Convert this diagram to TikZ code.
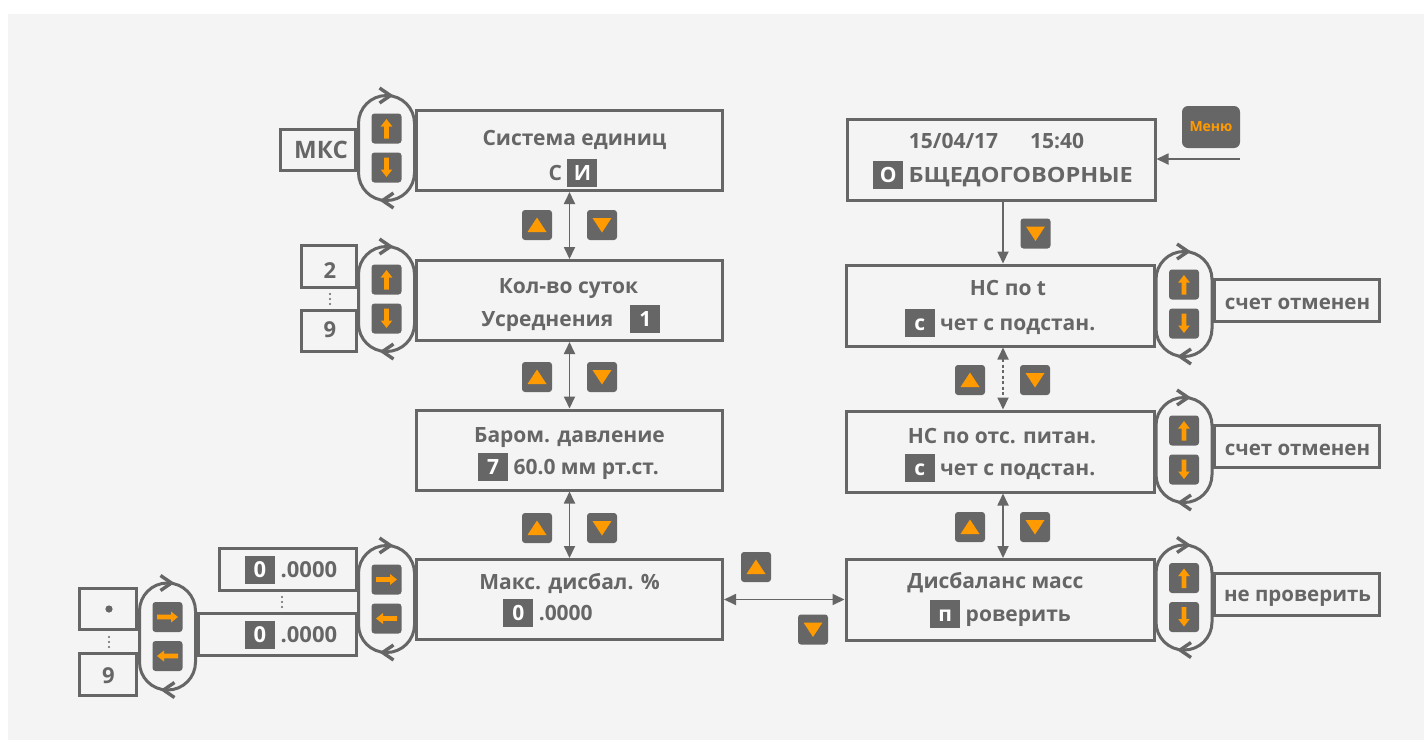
\documentclass[tikz,border=0pt]{standalone}
\usepackage{fontspec}
\usepackage{graphicx}
\setmainfont{Open Sans}
\usetikzlibrary{arrows.meta}
\definecolor{bgc}{HTML}{F4F4F4}
\definecolor{dg}{HTML}{666666}
\definecolor{orng}{HTML}{FF9A00}
\newcommand\lb[1]{{\setlength{\fboxsep}{0pt}\colorbox{dg}{\makebox[30pt]{\rule[-7pt]{0pt}{28pt}\textcolor{white}{#1}}}}}
\tikzset{
  ln/.style={draw=dg, line width=3pt},
  mainbox/.style={ln, minimum width=306pt, minimum height=80pt, inner sep=0pt, outer sep=1.5pt},
  rbox/.style={ln, minimum width=308pt, minimum height=81pt, inner sep=0pt, outer sep=1.5pt},
  sidebox/.style={ln, inner sep=0pt, outer sep=1.5pt},
  txt/.style={text=dg, font=\bfseries\fontsize{21}{25}\selectfont, anchor=base, inner sep=0pt},
  stxt/.style={txt, font=\bfseries\fontsize{22}{26}\selectfont},
  chev/.style={draw=dg, line width=3.4pt, line join=miter},
  tip/.tip={Triangle[length=12pt,width=11pt]},
  conn/.style={draw=dg, line width=1.8pt, tip-tip},
  conn1/.style={draw=dg, line width=1.8pt, -tip},
  vpill/.pic={
    \draw[ln, fill=bgc, rounded corners=27.9pt] (-28,-52.5) rectangle (28,52.5);
    \draw[chev] (-7,-60) -- (4,-52.5) -- (-7,-45);
    \draw[chev] (7,45) -- (-4,52.5) -- (7,60);
    \fill[dg, rounded corners=3pt] (-15,-34.5) rectangle (15,-4.5);
    \fill[dg, rounded corners=3pt] (-15,4.5) rectangle (15,34.5);
    \fill[orng] (0,-29) -- (5.8,-21.5) -- (2.4,-21.5) -- (2.4,-9.5) -- (-2.4,-9.5) -- (-2.4,-21.5) -- (-5.8,-21.5) -- cycle;
    \fill[orng] (0,29) -- (5.8,21.5) -- (2.4,21.5) -- (2.4,9.5) -- (-2.4,9.5) -- (-2.4,21.5) -- (-5.8,21.5) -- cycle;
  },
  hpill/.pic={
    \draw[ln, fill=bgc, rounded corners=27.9pt] (-28,-53.5) rectangle (28,53.5);
    \draw[chev] (-7,-61) -- (4,-53.5) -- (-7,-46);
    \draw[chev] (7,46) -- (-4,53.5) -- (7,61);
    \fill[dg, rounded corners=3pt] (-15,-34.5) rectangle (15,-4.5);
    \fill[dg, rounded corners=3pt] (-15,4.5) rectangle (15,34.5);
    \fill[orng] (10.5,-19.5) -- (3.5,-25) -- (3.5,-21.8) -- (-10.5,-21.8) -- (-10.5,-17.2) -- (3.5,-17.2) -- (3.5,-14) -- cycle;
    \fill[orng] (-10.5,19.5) -- (-3.5,25) -- (-3.5,21.8) -- (10.5,21.8) -- (10.5,17.2) -- (-3.5,17.2) -- (-3.5,14) -- cycle;
  },
  upbtn/.pic={
    \fill[dg, rounded corners=3pt] (-15,-15) rectangle (15,15);
    \fill[orng] (0,-7.5) -- (9.5,7) -- (-9.5,7) -- cycle;
  },
  dnbtn/.pic={
    \fill[dg, rounded corners=3pt] (-15,-15) rectangle (15,15);
    \fill[orng] (0,7.5) -- (9.5,-7) -- (-9.5,-7) -- cycle;
  },
}
\begin{document}
\begin{tikzpicture}[x=1pt,y=-1pt]
\useasboundingbox (0,0) rectangle (1424,740);
\fill[white] (0,0) rectangle (1424,740);
\fill[bgc] (8,14) rectangle (1424,740);

% side boxes
\node[sidebox, minimum width=75pt, minimum height=41pt] (mks) at (318,150) {};
\node[sidebox, minimum width=55pt, minimum height=42pt] (s2) at (329,266.5) {};
\node[sidebox, minimum width=55pt, minimum height=41pt] (s9) at (329,331) {};
\node[sidebox, minimum width=165pt, minimum height=42pt] (sr2) at (1297,300.5) {};
\node[sidebox, minimum width=165pt, minimum height=42pt] (sr3) at (1297,446.5) {};
\node[sidebox, minimum width=165pt, minimum height=42pt] (sr4) at (1297,594.5) {};
\node[sidebox, minimum width=137pt, minimum height=42pt] (z1) at (288,569.5) {};
\node[sidebox, minimum width=158pt, minimum height=42pt] (z2) at (277.5,634.5) {};
\node[sidebox, minimum width=57pt, minimum height=41pt] (dotb) at (108,609) {};
\node[sidebox, minimum width=57pt, minimum height=42pt] (n9) at (108,674.5) {};

% main boxes
\node[mainbox] (b1) at (569.5,150.5) {};
\node[mainbox] (b2) at (569.5,300.5) {};
\node[mainbox] (b3) at (569.5,450) {};
\node[mainbox] (b4) at (569.5,599.5) {};
\node[rbox] (r1) at (1001,160) {};
\node[rbox] (r2) at (1000,305.5) {};
\node[rbox] (r3) at (1000,451.5) {};
\node[rbox] (r4) at (1000,600) {};

% pills
\pic at (386.5,148) {vpill};
\pic at (386.5,299) {vpill};
\pic at (386.5,599) {hpill};
\pic at (167.5,636.5) {hpill};
\pic at (1184,304) {vpill};
\pic at (1184,450) {vpill};
\pic at (1184,597.5) {vpill};

% dots
\foreach \yy in {294,299,304} \fill[dg] (330,\yy) circle (1.1);
\foreach \yy in {597,602,607} \fill[dg] (282,\yy) circle (1.1);
\foreach \yy in {637,642,647} \fill[dg] (109,\yy) circle (1.1);
\fill[dg] (109,609) circle (3.6);

% texts in main boxes
\node[txt] (t1a) at (574.5,145) {Система единиц};
\node[txt] (t1b) at (573,180) {С \lb{И}};
\node[txt] (t2a) at (568.5,293) {Кол-во суток};
\node[txt] (t2b) at (571,326) {Усреднения\hspace{17pt}\lb{1}};
\node[txt] (t3a) at (569.5,442) {Баром. давление};
\node[txt] (t3b) at (568.5,474) {\lb{7} 60.0 мм рт.ст.};
\node[txt] (t4a) at (569.5,589) {Макс. дисбал. \%};
\node[txt] (t4b) at (548,620) {\lb{0} .0000};
\node[txt] (r1a) at (996.5,148) {15/04/17\hspace{32pt}15:40};
\node[txt] (r1b) at (1003,182) {\lb{О} \scalebox{1.12}[1]{БЩЕДОГОВОРНЫЕ}};
\node[txt] (r2a) at (1008,295) {НС по t};
\node[txt] (r2b) at (1000,330) {\lb{с} чет с подстан.};
\node[txt] (r3a) at (1002,443) {НС по отс. питан.};
\node[txt] (r3b) at (1000,475) {\lb{с} чет с подстан.};
\node[txt] (r4a) at (995.5,588) {Дисбаланс масс};
\node[txt] (r4b) at (1000.5,621) {\lb{п} роверить};

% side texts
\node[stxt, font=\bfseries\fontsize{24}{28}\selectfont] (tmks) at (321,158) {МКС};
\node[stxt] (t2) at (330,278) {2};
\node[stxt] (t9) at (330,337) {9};
\node[stxt, font=\bfseries\fontsize{20.5}{24}\selectfont] (tsr2) at (1297.5,309) {счет отменен};
\node[stxt, font=\bfseries\fontsize{20.5}{24}\selectfont] (tsr3) at (1297.5,455) {счет отменен};
\node[stxt, font=\bfseries\fontsize{20.5}{24}\selectfont] (tsr4) at (1297.5,601) {не проверить};
\node[stxt] (tz1) at (291,577) {\lb{0} .0000};
\node[stxt] (tz2) at (291,642) {\lb{0} .0000};
\node[stxt] (tn9) at (108.5,683) {9};

% menu
\node[fill=dg, rounded corners=6pt, minimum width=58pt, minimum height=42pt, inner sep=0pt, text=orng, font=\bfseries\fontsize{14}{16}\selectfont] (menu) at (1211,127) {Меню};
\coordinate (mstart) at (1240,159);
\draw[conn1] (mstart) -- (mstart -| r1.east);

% connectors
\draw[conn] (b1.south) -- (b2.north);
\draw[conn] (b2.south) -- (b3.north);
\draw[conn] (b3.south) -- (b4.north);
\draw[conn1] ([xshift=2pt]r1.south) -- ([xshift=3pt]r2.north);
\draw[conn, dash pattern=on 3pt off 2.5pt] ([xshift=3pt]r2.south) -- ([xshift=3pt]r3.north);
\draw[conn] ([xshift=3pt]r3.south) -- ([xshift=3pt]r4.north);
\draw[conn] (b4.east) -- (b4.east -| r4.west);

% buttons
\pic at (537,225) {upbtn};
\pic at (602,225) {dnbtn};
\pic at (537,377) {upbtn};
\pic at (602,377) {dnbtn};
\pic at (537,528) {upbtn};
\pic at (602,528) {dnbtn};
\pic at (1035.5,233.5) {dnbtn};
\pic at (970,380) {upbtn};
\pic at (1035,380) {dnbtn};
\pic at (970,527) {upbtn};
\pic at (1035,527) {dnbtn};
\pic at (756,567) {upbtn};
\pic at (813,629.5) {dnbtn};
\end{tikzpicture}
\end{document}
